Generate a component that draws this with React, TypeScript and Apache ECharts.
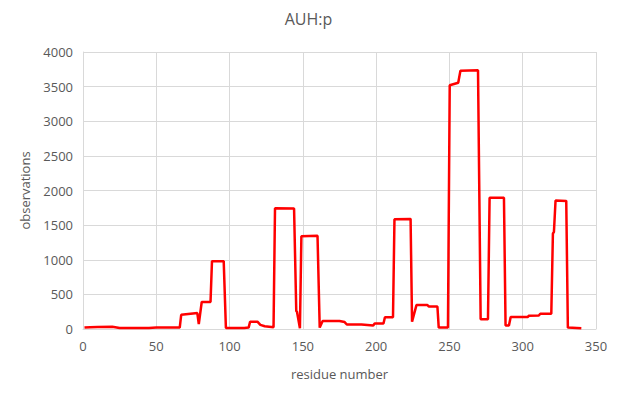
import React, { useEffect, useRef } from "react";
import * as echarts from "echarts";

const residues = [1, 5, 10, 20, 25, 45, 50, 66, 67, 75, 78, 79, 81, 87, 88, 96, 97.5, 110, 113, 114, 119, 121, 124, 130, 131, 144, 145.5, 146, 148, 149, 160, 161.5, 163.5, 175, 178.5, 180, 190, 198, 199, 205, 206, 211.5, 212.5, 223.5, 224.5, 227.5, 235, 236, 241.8, 242.7, 249, 250.2, 256, 257.5, 269.5, 271.3, 276.3, 277.4, 287.2, 288.3, 290.6, 291.8, 303.6, 304, 311, 312, 319.5, 320.6, 321.3, 322.4, 329.7, 330.8, 340];
const observations = [20, 25, 30, 32, 15, 15, 20, 20, 205, 225, 230, 70, 390, 390, 980, 980, 15, 15, 20, 105, 105, 60, 40, 25, 1745, 1740, 260, 250, 10, 1340, 1345, 20, 115, 115, 100, 65, 65, 50, 80, 80, 170, 170, 1585, 1590, 105, 345, 345, 325, 325, 20, 20, 3520, 3555, 3730, 3735, 140, 140, 1895, 1895, 50, 50, 175, 175, 190, 195, 220, 220, 1380, 1400, 1855, 1850, 20, 10];

const chartTitle = "AUH:p";
const xName = "residue number";
const yName = "observations";

export default function App() {
  const ref = useRef<HTMLDivElement>(null);
  useEffect(() => {
    if (!ref.current) return;
    const chart = echarts.init(ref.current, undefined, { renderer: "svg" });
    const font = "'Open Sans', 'Liberation Sans', sans-serif";
    const textColor = "#595959";
    chart.setOption({
      animation: false,
      backgroundColor: "#ffffff",
      title: {
        text: chartTitle,
        left: "center",
        top: 6,
        textStyle: { fontFamily: font, fontSize: 16, fontWeight: "normal", color: textColor },
      },
      grid: { left: 83, right: 21, top: 52, bottom: 64 },
      xAxis: {
        type: "value",
        min: 0,
        max: 350,
        interval: 50,
        name: xName,
        nameLocation: "middle",
        nameGap: 38,
        nameTextStyle: { fontFamily: font, fontSize: 13, color: textColor },
        axisLine: { show: true, lineStyle: { color: "#d9d9d9" } },
        axisTick: { show: false },
        axisLabel: { fontFamily: font, fontSize: 13, color: textColor, margin: 10, formatter: (v: number) => String(v) },
        splitLine: { show: true, lineStyle: { color: "#d9d9d9" } },
      },
      yAxis: {
        type: "value",
        min: 0,
        max: 4000,
        interval: 500,
        name: yName,
        nameLocation: "middle",
        nameGap: 52,
        nameTextStyle: { fontFamily: font, fontSize: 13, color: textColor },
        axisLine: { show: true, lineStyle: { color: "#d9d9d9" } },
        axisTick: { show: false },
        axisLabel: { fontFamily: font, fontSize: 13, color: textColor, margin: 10, formatter: (v: number) => String(v) },
        splitLine: { show: true, lineStyle: { color: "#d9d9d9" } },
      },
      series: [
        {
          type: "line",
          data: residues.map((r, i) => [r, observations[i]]),
          showSymbol: false,
          symbol: "none",
          lineStyle: { color: "#ff0000", width: 2.5 },
        },
      ],
    });
    return () => chart.dispose();
  }, []);
  return <div ref={ref} style={{ width: 617, height: 393, position: "absolute", left: 0, top: 0 }} />;
}
